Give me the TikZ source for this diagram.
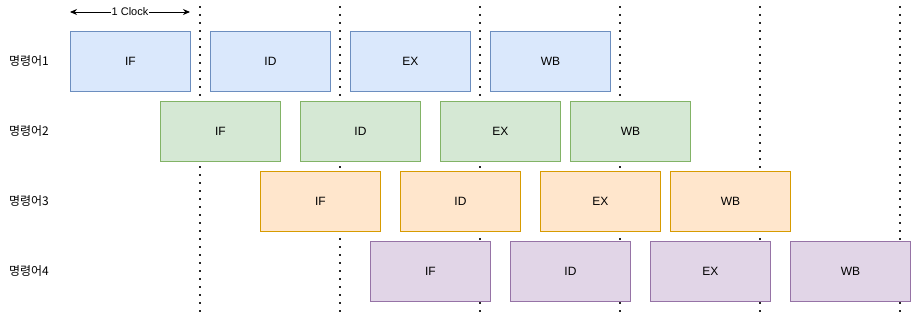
\documentclass[tikz,border=0pt]{standalone}
\usepackage{fontspec}
\setmainfont{Liberation Sans}
\newfontfamily\krfont{Noto Sans CJK KR}
\usetikzlibrary{arrows.meta}
\definecolor{bfill}{HTML}{DAE8FC}\definecolor{bdraw}{HTML}{6C8EBF}
\definecolor{gfill}{HTML}{D5E8D4}\definecolor{gdraw}{HTML}{82B366}
\definecolor{ofill}{HTML}{FFE6CC}\definecolor{odraw}{HTML}{D79B00}
\definecolor{pfill}{HTML}{E1D5E7}\definecolor{pdraw}{HTML}{9673A6}
\begin{document}
\begin{tikzpicture}[x=1pt,y=-1pt,
  stage/.style={draw, line width=0.9pt, minimum width=120pt, minimum height=60pt, inner sep=0pt, font=\fontsize{12}{14}\selectfont, anchor=north west},
  bst/.style={stage, fill=bfill, draw=bdraw},
  gst/.style={stage, fill=gfill, draw=gdraw},
  ost/.style={stage, fill=ofill, draw=odraw},
  pst/.style={stage, fill=pfill, draw=pdraw},
  clk/.style={line width=1.6pt, dash pattern=on 1.6pt off 6.4pt, draw=black!85},
  rowlabel/.style={font=\krfont\fontsize{12}{14}\selectfont, inner sep=0pt}
]
\useasboundingbox (0,0) rectangle (911,313);
% dotted clock lines
\foreach \x/\n in {200/a,340/b,480/c,620/d,760/e,900/f}{
  \coordinate (t\n) at (\x,6);
  \coordinate (b\n) at (\x,313);
  \draw[clk] (t\n) -- (b\n);
}
% row 1
\node[bst] (r1a) at (70,31) {IF};
\node[bst] (r1b) at (210,31) {ID};
\node[bst] (r1c) at (350,31) {EX};
\node[bst] (r1d) at (490,31) {WB};
% row 2
\node[gst] (r2a) at (160,101) {IF};
\node[gst] (r2b) at (300,101) {ID};
\node[gst] (r2c) at (440,101) {EX};
\node[gst] (r2d) at (570,101) {WB};
% row 3
\node[ost] (r3a) at (260,171) {IF};
\node[ost] (r3b) at (400,171) {ID};
\node[ost] (r3c) at (540,171) {EX};
\node[ost] (r3d) at (670,171) {WB};
% row 4
\node[pst] (r4a) at (370,241) {IF};
\node[pst] (r4b) at (510,241) {ID};
\node[pst] (r4c) at (650,241) {EX};
\node[pst] (r4d) at (790,241) {WB};
% labels
\node[rowlabel] (l1) at (29,61) {명령어1};
\node[rowlabel] (l2) at (29,131) {명령어2};
\node[rowlabel] (l3) at (29,201) {명령어3};
\node[rowlabel] (l4) at (29,271) {명령어4};
% clock arrow
\coordinate (cka) at (70,12);
\coordinate (ckb) at (190,12);
\node[font=\fontsize{11}{13}\selectfont, fill=white, inner sep=0.5pt] (ck) at (130,12) {1 Clock};
\draw[line width=0.9pt, -{Stealth[length=7pt,width=6pt]}] (ck.west) -- (cka);
\draw[line width=0.9pt, -{Stealth[length=7pt,width=6pt]}] (ck.east) -- (ckb);
\end{tikzpicture}
\end{document}
